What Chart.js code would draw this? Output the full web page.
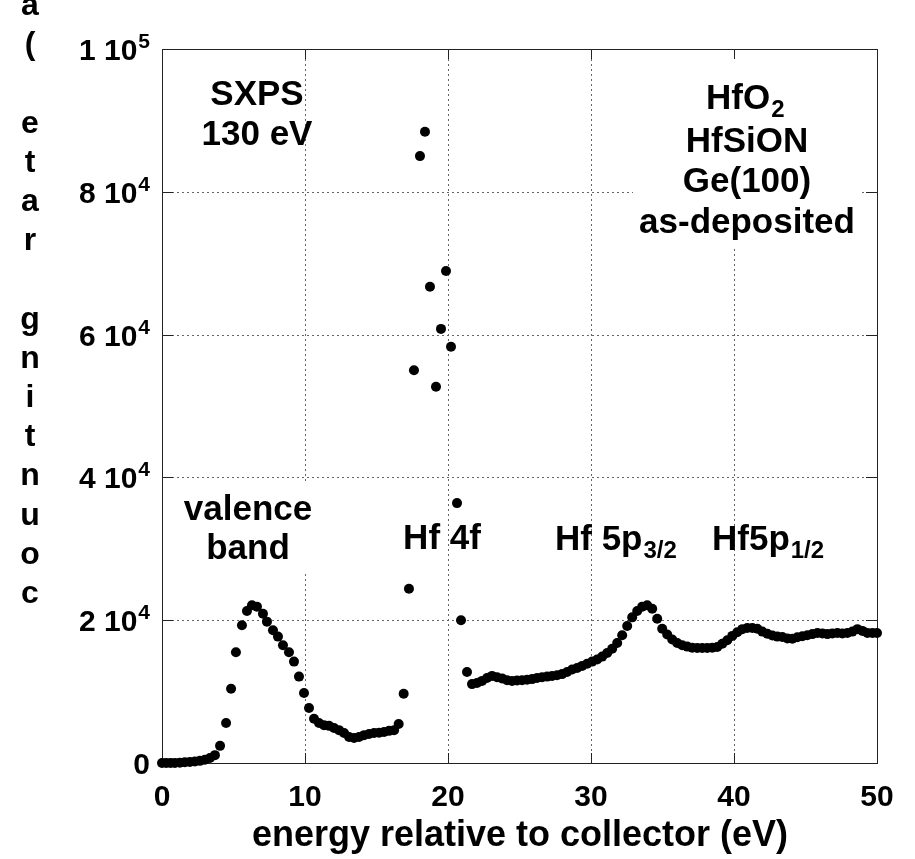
<!DOCTYPE html>
<html>
<head>
<meta charset="utf-8">
<script src="https://cdn.jsdelivr.net/npm/chart.js@4.4.1/dist/chart.umd.min.js"></script>
<style>
  html, body { margin: 0; padding: 0; background: #fff; }
  #wrap { width: 915px; height: 859px; }
</style>
</head>
<body>
<div id="wrap"><canvas id="chart" width="915" height="859"></canvas></div>
<script>
// Data
const energy = [
    0, 0.30, 0.60, 0.90, 1.25, 1.60, 1.95, 2.30, 2.65, 3.00, 3.35, 3.70,
    4.06, 4.48, 4.83, 5.17, 5.59, 5.94, 6.29, 6.64, 7.06, 7.34, 7.76, 8.11,
    8.46, 8.88, 9.23, 9.58, 9.93, 10.28, 10.63, 10.98, 11.33, 11.68, 12.03, 12.38,
    12.73, 13.08, 13.43, 13.78, 14.13, 14.48, 14.83, 15.18, 15.53, 15.88, 16.23, 16.55,
    16.90, 17.27, 17.62, 18.04, 18.39, 18.74, 19.16, 19.51, 19.86, 20.21, 20.63, 20.91,
    21.33, 21.68, 22.03, 22.38, 22.73, 23.08, 23.43, 23.78, 24.13, 24.48, 24.83, 25.18,
    25.53, 25.88, 26.23, 26.58, 26.93, 27.28, 27.63, 27.98, 28.33, 28.68, 29.03, 29.38,
    29.73, 30.08, 30.43, 30.78, 31.13, 31.48, 31.83, 32.18, 32.53, 32.88, 33.23, 33.58,
    33.93, 34.28, 34.63, 34.98, 35.33, 35.68, 36.03, 36.38, 36.73, 37.08, 37.43, 37.78,
    38.13, 38.48, 38.83, 39.18, 39.53, 39.88, 40.23, 40.58, 40.93, 41.28, 41.63, 41.98,
    42.33, 42.68, 43.03, 43.38, 43.73, 44.08, 44.43, 44.78, 45.13, 45.48, 45.83, 46.18,
    46.53, 46.88, 47.23, 47.58, 47.93, 48.28, 48.63, 48.98, 49.33, 49.68, 50.00
];
const counts = [
    0, 0, 0, 0, 50, 100, 150, 200, 300, 450, 700, 1100,
    2400, 5600, 10400, 15500, 19300, 21300, 22100, 21900, 20900, 19800, 18600, 17700,
    16500, 15500, 14200, 12100, 9800, 7700, 6200, 5600, 5300, 5200, 4900, 4600,
    4200, 3650, 3500, 3650, 3900, 4050, 4200, 4250, 4350, 4500, 4600, 5450,
    9700, 24400, 55000, 85000, 88400, 66700, 52700, 60800, 68900, 58300, 36400, 20000,
    12750, 11050, 11200, 11500, 11900, 12200, 12000, 11850, 11600, 11500, 11550, 11600,
    11650, 11750, 11900, 12000, 12100, 12200, 12300, 12450, 12750, 13100, 13300, 13600,
    13900, 14200, 14500, 14900, 15400, 16000, 16800, 17900, 19200, 20400, 21300, 21900,
    22100, 21600, 20200, 18800, 18000, 17300, 16800, 16500, 16300, 16150, 16100, 16100,
    16100, 16150, 16250, 16700, 17200, 17800, 18300, 18750, 18900, 18900, 18800, 18400,
    18100, 17850, 17700, 17650, 17450, 17400, 17600, 17750, 17900, 18050, 18200, 18150,
    18050, 18150, 18200, 18150, 18200, 18400, 18750, 18500, 18200, 18200, 18200
];

// Axis ticks
const xTicks = [0, 10, 20, 30, 40, 50];
const yTicks = [0, 20000, 40000, 60000, 80000, 100000];
const yTickBase = ['0', '2 10', '4 10', '6 10', '8 10', '1 10'];
const yTickExp = ['', '4', '4', '4', '4', '5'];

const xTitle = 'energy relative to collector (eV)';
const yTitle = 'counting rate (a.u.)';

const FONT = '"Liberation Sans", Arial, sans-serif';

function font(size) {
    return 'bold ' + size + 'px ' + FONT;
}

// text with optional subscript, drawn from a left x
function textWithSub(ctx, main, sub, x, y, size, subSize) {
    ctx.font = font(size);
    ctx.textAlign = 'left';
    ctx.textBaseline = 'alphabetic';
    ctx.fillText(main, x, y);
    const w = ctx.measureText(main).width;
    if (sub) {
        ctx.font = font(subSize);
        ctx.fillText(sub, x + w + 1, y + 8);
    }
}

const framePlugin = {
    id: 'frame',
    beforeDatasetsDraw(chart) {
        const { ctx, chartArea: a, scales } = chart;
        const xs = scales.x, ys = scales.y;
        ctx.save();

        // dotted grid
        ctx.strokeStyle = '#666';
        ctx.lineWidth = 1;
        ctx.setLineDash([2, 3]);
        xTicks.slice(1, -1).forEach(v => {
            const px = Math.round(xs.getPixelForValue(v)) + 0.5;
            ctx.beginPath();
            ctx.moveTo(px, a.top);
            ctx.lineTo(px, a.bottom);
            ctx.stroke();
        });
        yTicks.slice(1, -1).forEach(v => {
            const py = Math.round(ys.getPixelForValue(v)) + 0.5;
            ctx.beginPath();
            ctx.moveTo(a.left, py);
            ctx.lineTo(a.right, py);
            ctx.stroke();
        });
        ctx.setLineDash([]);

        // white patches behind the labels
        ctx.fillStyle = '#fff';
        ctx.fillRect(633, 52, 229, 195);
        ctx.fillRect(182, 481, 136, 91);

        // frame and inward ticks
        ctx.strokeStyle = '#222';
        ctx.lineWidth = 1;
        ctx.strokeRect(Math.round(a.left) + 0.5, Math.round(a.top) + 0.5,
            Math.round(a.right - a.left), Math.round(a.bottom - a.top));
        ctx.beginPath();
        xTicks.forEach(v => {
            const px = Math.round(xs.getPixelForValue(v)) + 0.5;
            ctx.moveTo(px, a.bottom); ctx.lineTo(px, a.bottom - 10);
            ctx.moveTo(px, a.top); ctx.lineTo(px, a.top + 10);
        });
        yTicks.forEach(v => {
            const py = Math.round(ys.getPixelForValue(v)) + 0.5;
            ctx.moveTo(a.left, py); ctx.lineTo(a.left + 11, py);
            ctx.moveTo(a.right, py); ctx.lineTo(a.right - 11, py);
        });
        ctx.stroke();
        ctx.restore();
    },
    afterDatasetsDraw(chart) {
        const { ctx, scales } = chart;
        const xs = scales.x, ys = scales.y;
        ctx.save();
        ctx.fillStyle = '#000';

        // x tick labels
        ctx.font = font(30);
        ctx.textAlign = 'center';
        ctx.textBaseline = 'alphabetic';
        xTicks.forEach(v => {
            ctx.fillText(String(v), xs.getPixelForValue(v), 806);
        });

        // y tick labels with powers of ten
        yTicks.forEach((v, i) => {
            const py = ys.getPixelForValue(v) + 11;
            const right = 150;
            ctx.font = font(21);
            const ew = yTickExp[i] ? ctx.measureText(yTickExp[i]).width + 1 : 0;
            if (yTickExp[i]) {
                ctx.textAlign = 'left';
                ctx.fillText(yTickExp[i], right - ew + 1, py - 12);
            }
            ctx.font = font(30);
            ctx.textAlign = 'right';
            ctx.fillText(yTickBase[i], right - ew, py);
        });

        // x title
        ctx.font = font(36);
        ctx.textAlign = 'center';
        ctx.fillText(xTitle, 520, 846);

        // y title, letters stacked bottom to top
        ctx.font = font(32);
        yTitle.split('').forEach((ch, i) => {
            ctx.fillText(ch, 30, 603 - i * 39.2);
        });

        // annotations
        ctx.font = font(35);
        ctx.textAlign = 'center';
        ctx.fillText('SXPS', 257, 105);
        ctx.fillText('130 eV', 257, 145);
        ctx.fillText('HfSiON', 747, 152);
        ctx.fillText('Ge(100)', 747, 192);
        ctx.fillText('as-deposited', 747, 233);
        ctx.fillText('valence', 248, 520);
        ctx.fillText('band', 248, 559);
        ctx.fillText('Hf 4f', 442, 549);

        textWithSub(ctx, 'HfO', '2', 706, 109, 35, 24);
        textWithSub(ctx, 'Hf 5p', '3/2', 555, 550, 35, 24);
        textWithSub(ctx, 'Hf5p', '1/2', 712, 550, 35, 24);

        ctx.restore();
    }
};

new Chart(document.getElementById('chart'), {
    type: 'scatter',
    data: {
        datasets: [{
            data: energy.map((e, i) => ({ x: e, y: counts[i] })),
            pointRadius: 5,
            pointBackgroundColor: '#000',
            pointBorderWidth: 0,
            clip: false
        }]
    },
    options: {
        responsive: false,
        animation: false,
        layout: { padding: { left: 162, right: 38, top: 49, bottom: 96 } },
        plugins: {
            legend: { display: false },
            tooltip: { enabled: false }
        },
        scales: {
            x: { type: 'linear', min: 0, max: 50, display: false },
            y: { type: 'linear', min: 0, max: 100000, display: false }
        }
    },
    plugins: [framePlugin]
});
</script>
</body>
</html>
